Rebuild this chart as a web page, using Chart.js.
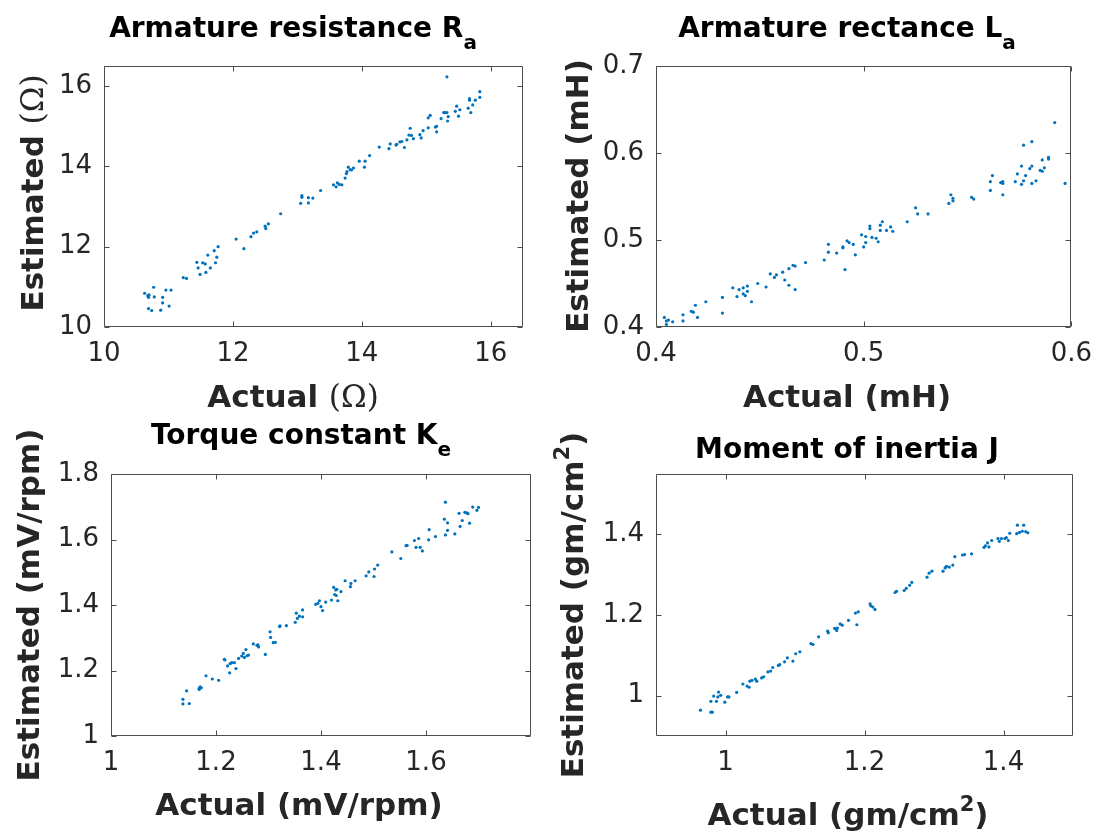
<!DOCTYPE html>
<html>
<head>
<meta charset="utf-8">
<script src="https://cdn.jsdelivr.net/npm/chart.js@4.4.1/dist/chart.umd.min.js"></script>
<style>
html,body{margin:0;padding:0;background:#ffffff;}
#wrap{position:relative;width:1104px;height:834px;overflow:hidden;background:#ffffff;}
#wrap canvas{position:absolute;left:0;top:0;}
</style>
</head>
<body>
<div id="wrap">
<canvas id="c1" width="1104" height="834"></canvas>
<canvas id="c2" width="1104" height="834"></canvas>
<canvas id="c3" width="1104" height="834"></canvas>
<canvas id="c4" width="1104" height="834"></canvas>
</div>
<script>
// ---------------- DATA ----------------
// Panel 1: Armature resistance Ra (ohm)
const raActual = [10.63,10.68,10.69,10.70,10.77,10.78,10.96,11.04,10.91,10.91,11.01,10.69,10.74,10.88,
  11.23,11.28,11.44,11.46,11.49,11.53,11.57,11.58,11.61,11.65,11.71,11.73,11.75,11.77,
  12.05,12.17,12.28,12.32,12.37,12.50,12.51,12.55,12.74,
  13.05,13.07,13.07,13.17,13.17,13.24,13.36,
  13.56,13.60,13.62,13.65,13.69,13.74,13.76,13.77,13.79,13.82,13.84,13.87,13.96,14.04,14.05,14.12,
  14.27,14.42,14.44,14.53,14.54,14.59,14.62,14.66,14.70,14.73,14.75,14.77,14.80,14.90,14.92,14.95,15.03,15.03,15.06,15.14,15.16,15.16,15.23,15.27,15.29,15.32,15.32,15.34,15.33,15.45,15.47,15.50,15.52,15.65,15.67,15.67,15.69,15.72,15.76,15.83,15.83];
const raEstimated = [10.84,10.78,10.74,10.80,10.99,10.75,10.92,10.92,10.74,10.60,10.52,10.46,10.41,10.42,
  11.23,11.21,11.61,11.47,11.31,11.60,11.57,11.36,11.79,11.47,11.90,11.60,11.74,12.00,
  12.19,11.95,12.25,12.34,12.37,12.51,12.45,12.57,12.82,
  13.08,13.23,13.27,13.09,13.22,13.21,13.40,
  13.54,13.49,13.59,13.55,13.54,13.71,13.82,13.87,13.98,13.92,13.91,13.96,14.13,13.98,14.13,14.27,
  14.48,14.44,14.56,14.53,14.55,14.61,14.62,14.47,14.66,14.78,14.95,14.77,14.69,14.79,14.71,14.89,14.96,15.21,15.27,14.98,15.00,14.86,15.19,15.34,15.34,16.23,15.34,15.24,15.13,15.37,15.50,15.25,15.41,15.45,15.65,15.69,15.34,15.53,15.65,15.86,15.72];

// Panel 2: Armature reactance La (mH)
const laActual = [0.404,0.405,0.405,0.406,0.408,0.413,0.413,0.417,0.419,0.418,
  0.420,0.424,0.432,0.432,0.437,0.439,0.440,0.442,0.442,0.443,
  0.444,0.444,0.446,0.449,0.453,0.455,0.457,0.458,0.461,0.462,
  0.464,0.464,0.466,0.467,0.467,0.472,0.481,0.483,0.483,0.487,
  0.490,0.490,0.491,0.492,0.493,0.495,0.496,0.499,0.500,0.501,
  0.501,0.503,0.503,0.504,0.506,0.507,0.508,0.509,0.508,0.511,
  0.513,0.514,0.521,0.525,0.526,0.531,0.541,0.542,0.543,0.543,
  0.552,0.553,0.561,0.561,0.562,0.566,0.567,0.567,0.567,0.573,
  0.574,0.576,0.577,0.576,0.577,0.578,0.580,0.581,0.581,0.581,
  0.583,0.585,0.586,0.586,0.587,0.589,0.589,0.592,0.597];
const laEstimated = [0.411,0.407,0.403,0.408,0.406,0.407,0.414,0.418,0.425,0.417,
  0.411,0.429,0.434,0.416,0.445,0.435,0.443,0.438,0.445,0.436,
  0.447,0.441,0.429,0.450,0.446,0.461,0.457,0.460,0.463,0.454,
  0.448,0.467,0.471,0.470,0.443,0.474,0.477,0.486,0.495,0.485,
  0.491,0.492,0.466,0.499,0.497,0.495,0.483,0.506,0.492,0.504,
  0.497,0.516,0.513,0.503,0.502,0.498,0.517,0.521,0.511,0.511,
  0.515,0.510,0.521,0.537,0.530,0.530,0.542,0.552,0.545,0.548,
  0.549,0.547,0.567,0.557,0.574,0.566,0.565,0.552,0.567,0.567,
  0.576,0.585,0.609,0.564,0.568,0.574,0.582,0.613,0.585,0.565,
  0.568,0.580,0.592,0.579,0.583,0.595,0.593,0.635,0.565];

// Panel 3: Torque constant Ke (mV/rpm)
const keActual = [1.137,1.137,1.144,1.149,1.168,1.170,1.172,1.168,1.181,1.193,
  1.205,1.216,1.217,1.222,1.226,1.227,1.230,1.235,1.238,1.243,
  1.249,1.252,1.254,1.257,1.259,1.262,1.271,1.278,1.281,1.280,
  1.294,1.303,1.304,1.309,1.313,1.321,1.322,1.334,1.351,1.353,
  1.355,1.359,1.365,1.365,1.390,1.394,1.397,1.400,1.403,1.409,
  1.420,1.424,1.426,1.428,1.429,1.432,1.430,1.438,1.446,1.456,
  1.457,1.465,1.486,1.491,1.501,1.502,1.508,1.535,1.552,1.562,
  1.564,1.578,1.581,1.586,1.589,1.593,1.606,1.605,1.618,1.635,
  1.637,1.637,1.641,1.641,1.655,1.663,1.665,1.669,1.674,1.678,
  1.680,1.683,1.689,1.697,1.700];
const keEstimated = [1.112,1.098,1.138,1.099,1.142,1.150,1.147,1.146,1.184,1.174,
  1.170,1.234,1.232,1.214,1.193,1.221,1.224,1.224,1.206,1.237,
  1.244,1.252,1.240,1.264,1.245,1.247,1.281,1.277,1.272,1.278,
  1.249,1.318,1.301,1.285,1.286,1.334,1.336,1.337,1.347,1.375,
  1.359,1.366,1.385,1.364,1.402,1.405,1.413,1.395,1.383,1.409,
  1.415,1.454,1.432,1.446,1.429,1.413,1.448,1.441,1.474,1.456,
  1.466,1.474,1.489,1.501,1.487,1.510,1.522,1.562,1.542,1.581,
  1.582,1.597,1.576,1.603,1.576,1.565,1.630,1.599,1.609,1.662,
  1.614,1.714,1.651,1.628,1.617,1.680,1.640,1.658,1.683,1.681,
  1.679,1.650,1.699,1.689,1.698];

// Panel 4: Moment of inertia J (gm/cm^2)
const jActual = [0.964,0.979,0.979,0.981,0.983,0.987,0.989,0.990,0.993,0.999,
  1.003,1.005,1.016,1.025,1.031,1.034,1.035,1.038,1.043,1.045,
  1.052,1.055,1.061,1.065,1.068,1.076,1.078,1.085,1.089,1.097,
  1.101,1.107,1.123,1.126,1.134,1.147,1.148,1.157,1.160,1.161,
  1.165,1.168,1.177,1.187,1.189,1.191,1.208,1.209,1.212,1.215,
  1.244,1.246,1.257,1.260,1.265,1.268,1.290,1.293,1.297,1.313,
  1.316,1.318,1.322,1.327,1.330,1.341,1.344,1.354,1.372,1.374,
  1.377,1.379,1.383,1.392,1.394,1.397,1.402,1.404,1.407,1.409,
  1.419,1.420,1.423,1.427,1.429,1.432,1.435];
const jEstimated = [0.964,0.986,0.959,0.959,0.999,0.986,0.997,1.009,1.001,0.984,
  0.997,0.997,1.008,1.029,1.024,1.021,1.036,1.038,1.041,1.036,
  1.044,1.047,1.059,1.061,1.070,1.075,1.077,1.084,1.094,1.086,
  1.104,1.109,1.129,1.127,1.146,1.160,1.156,1.167,1.162,1.168,
  1.178,1.175,1.187,1.205,1.176,1.208,1.228,1.223,1.220,1.214,
  1.256,1.259,1.261,1.266,1.274,1.281,1.294,1.304,1.309,1.309,
  1.317,1.321,1.319,1.324,1.345,1.349,1.350,1.352,1.368,1.372,
  1.379,1.369,1.385,1.390,1.383,1.390,1.390,1.392,1.385,1.403,
  1.402,1.423,1.405,1.408,1.423,1.407,1.404];

// Tick values
const raXTicks = [10,12,14,16], raYTicks = [10,12,14,16];
const laXTicks = [0.4,0.5,0.6], laYTicks = [0.4,0.5,0.6,0.7];
const keXTicks = [1,1.2,1.4,1.6], keYTicks = [1,1.2,1.4,1.6,1.8];
const jXTicks = [1,1.2,1.4], jYTicks = [1,1.2,1.4];

// ---------------- STYLE / HELPERS ----------------
const DOT = '#0072BD';
const AXC = '#262626';
const SANS = '"DejaVu Sans", sans-serif';
const SERIF = '"DejaVu Serif", serif';
const fTitle = 'bold 28px ' + SANS;
const fSub = 'bold 20px ' + SANS;
const fLab = 'bold 31px ' + SANS;
const fLabSerif = '31px ' + SERIF;
const fSup = 'bold 21px ' + SANS;

const textPlugin = {
  id: 'panelText',
  afterDraw(chart, args, opts) {
    const ctx = chart.ctx;
    (opts.items || []).forEach(it => {
      ctx.save();
      ctx.translate(it.x, it.y);
      if (it.rot) ctx.rotate(it.rot * Math.PI / 180);
      ctx.fillStyle = it.color || AXC;
      ctx.textBaseline = 'alphabetic';
      ctx.textAlign = 'left';
      let w = 0;
      it.parts.forEach(p => { ctx.font = p.font; w += ctx.measureText(p.t).width; });
      let cx = -w / 2;
      it.parts.forEach(p => {
        ctx.font = p.font;
        ctx.fillText(p.t, cx, p.dy || 0);
        cx += ctx.measureText(p.t).width;
      });
      ctx.restore();
    });
  }
};

const boxPlugin = {
  id: 'matlabBox',
  afterDatasetsDraw(chart, args, opts) {
    const ctx = chart.ctx, a = chart.chartArea, xs = chart.scales.x, ys = chart.scales.y;
    const L = Math.round(a.left) + 0.5, R = Math.round(a.right) - 0.5;
    const T = Math.round(a.top) + 0.5, B = Math.round(a.bottom) - 0.5;
    const tl = 5;
    ctx.save();
    ctx.strokeStyle = '#4d4d4d';
    ctx.lineWidth = 1;
    ctx.beginPath();
    ctx.rect(L, T, R - L, B - T);
    opts.xTicks.forEach(v => {
      const px = Math.round(xs.getPixelForValue(v)) + 0.5;
      ctx.moveTo(px, B); ctx.lineTo(px, B - tl);
      ctx.moveTo(px, T); ctx.lineTo(px, T + tl);
    });
    opts.yTicks.forEach(v => {
      const py = Math.round(ys.getPixelForValue(v)) + 0.5;
      ctx.moveTo(L, py); ctx.lineTo(L + tl, py);
      ctx.moveTo(R, py); ctx.lineTo(R - tl, py);
    });
    ctx.stroke();
    ctx.restore();
  }
};

function makePanel(id, cfg) {
  const yW = 70, xH = 60;
  const pts = cfg.xs.map((v, i) => ({ x: v, y: cfg.ys[i] }));
  const axisCommon = (ticksArr, labelTicks, isX) => ({
    type: 'linear',
    min: isX ? cfg.xMin : cfg.yMin,
    max: isX ? cfg.xMax : cfg.yMax,
    afterBuildTicks: s => { s.ticks = labelTicks.map(v => ({ value: v })); },
    afterFit: s => { if (isX) s.height = xH; else s.width = yW; },
    grid: { display: false, drawTicks: false },
    border: { display: false },
    ticks: {
      padding: isX ? 12 : 12,
      autoSkip: false, maxRotation: 0, minRotation: 0,
      color: AXC,
      font: { family: SANS, size: 26 },
      callback: v => String(v)
    }
  });
  return new Chart(document.getElementById(id), {
    type: 'scatter',
    data: { datasets: [{ data: pts, backgroundColor: DOT, borderWidth: 0, pointRadius: 1.6, pointHoverRadius: 1.6 }] },
    options: {
      responsive: false,
      devicePixelRatio: 1,
      animation: false,
      events: [],
      layout: { padding: { left: cfg.L - yW, top: cfg.T, right: 1104 - cfg.R, bottom: 834 - cfg.B - xH } },
      scales: {
        x: axisCommon(cfg.xTicks, cfg.xLabelTicks || cfg.xTicks, true),
        y: axisCommon(cfg.yTicks, cfg.yTicks, false)
      },
      plugins: {
        legend: { display: false },
        tooltip: { enabled: false },
        title: { display: false },
        matlabBox: { xTicks: cfg.xTicks, yTicks: cfg.yTicks },
        panelText: { items: cfg.texts }
      }
    },
    plugins: [boxPlugin, textPlugin]
  });
}

// ---------------- PANELS ----------------
makePanel('c1', {
  xs: raActual, ys: raEstimated, xMin: 10, xMax: 16.5, yMin: 10, yMax: 16.5,
  xTicks: raXTicks, yTicks: raYTicks, L: 104, R: 523, T: 66, B: 327,
  texts: [
    { x: 293, y: 37, color: '#000', parts: [{ t: 'Armature resistance R', font: fTitle }, { t: 'a', font: fSub, dy: 12 }] },
    { x: 293, y: 407, parts: [{ t: 'Actual ', font: fLab }, { t: '(Ω)', font: fLabSerif }] },
    { x: 43, y: 193, rot: -90, parts: [{ t: 'Estimated ', font: fLab }, { t: '(Ω)', font: fLabSerif }] }
  ]
});

makePanel('c2', {
  xs: laActual, ys: laEstimated, xMin: 0.4, xMax: 0.6, yMin: 0.4, yMax: 0.7,
  xTicks: laXTicks, yTicks: laYTicks, L: 656, R: 1073, T: 66, B: 327,
  texts: [
    { x: 847, y: 37, color: '#000', parts: [{ t: 'Armature rectance L', font: fTitle }, { t: 'a', font: fSub, dy: 12 }] },
    { x: 847, y: 407, parts: [{ t: 'Actual (mH)', font: fLab }] },
    { x: 588, y: 196, rot: -90, parts: [{ t: 'Estimated (mH)', font: fLab }] }
  ]
});

makePanel('c3', {
  xs: keActual, ys: keEstimated, xMin: 1, xMax: 1.8, yMin: 1, yMax: 1.8,
  xTicks: keXTicks, yTicks: keYTicks, L: 111, R: 531, T: 474, B: 736,
  texts: [
    { x: 301, y: 444, color: '#000', parts: [{ t: 'Torque constant K', font: fTitle }, { t: 'e', font: fSub, dy: 12 }] },
    { x: 299, y: 815, parts: [{ t: 'Actual (mV/rpm)', font: fLab }] },
    { x: 39, y: 605, rot: -90, parts: [{ t: 'Estimated (mV/rpm)', font: fLab }] }
  ]
});

makePanel('c4', {
  xs: jActual, ys: jEstimated, xMin: 0.9, xMax: 1.5, yMin: 0.9, yMax: 1.55,
  xTicks: jXTicks, yTicks: jYTicks, L: 656, R: 1073, T: 474, B: 736,
  texts: [
    { x: 847, y: 458, color: '#000', parts: [{ t: 'Moment of inertia J', font: fTitle }] },
    { x: 848, y: 825, parts: [{ t: 'Actual (gm/cm', font: fLab }, { t: '2', font: fSup, dy: -14 }, { t: ')', font: fLab }] },
    { x: 583, y: 605, rot: -90, parts: [{ t: 'Estimated (gm/cm', font: fLab }, { t: '2', font: fSup, dy: -14 }, { t: ')', font: fLab }] }
  ]
});
</script>
</body>
</html>
